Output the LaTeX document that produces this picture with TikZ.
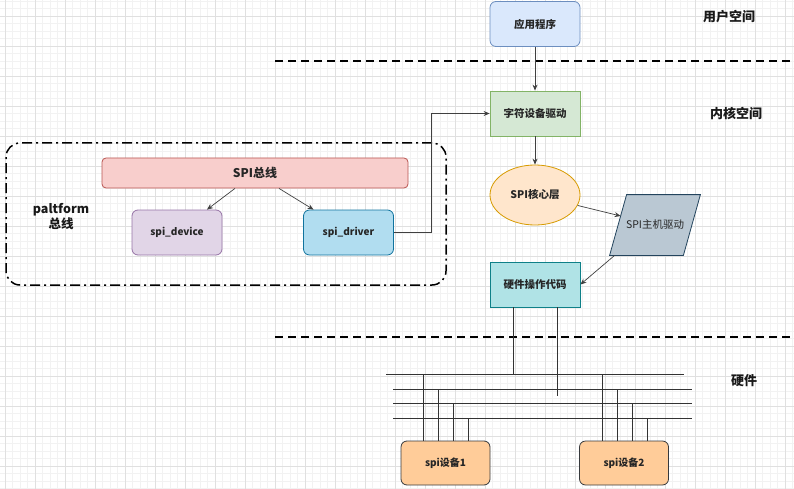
\documentclass[tikz,border=0pt]{standalone}
\usepackage{fontspec}
\setmainfont{Noto Sans CJK SC}
\usetikzlibrary{arrows.meta,positioning,shapes.geometric,backgrounds}
\definecolor{appfill}{HTML}{DAE8FC}\definecolor{appline}{HTML}{6C8EBF}
\definecolor{chrfill}{HTML}{D5E8D4}\definecolor{chrline}{HTML}{82B366}
\definecolor{corefill}{HTML}{FFE6CC}\definecolor{coreline}{HTML}{D79B00}
\definecolor{hostfill}{HTML}{BAC8D3}\definecolor{hostline}{HTML}{23445D}
\definecolor{hwfill}{HTML}{B0E3E6}\definecolor{hwline}{HTML}{0E8088}
\definecolor{busfill}{HTML}{F8CECC}\definecolor{busline}{HTML}{B85450}
\definecolor{devfill}{HTML}{E1D5E7}\definecolor{devline}{HTML}{9673A6}
\definecolor{drvfill}{HTML}{B1DDF0}\definecolor{drvline}{HTML}{10739E}
\definecolor{chipfill}{HTML}{FFCC99}\definecolor{chipline}{HTML}{36393D}
\tikzset{
  box/.style={draw,rectangle,line width=0.8pt,minimum width=90pt,minimum height=45pt,
    inner sep=0pt,text=black!85,font=\bfseries\fontsize{10.5}{12}\selectfont},
  rbox/.style={box,rounded corners=6pt},
  layer/.style={text=black!90,font=\bfseries\fontsize{13}{16}\selectfont},
  split/.style={line width=2.5pt,dash pattern=on 8pt off 5pt},
  flow/.style={-{Stealth[length=6pt,width=5pt]},draw=black!75,line width=0.7pt},
  wire/.style={draw=black!80,line width=0.9pt},
  container/.style={draw,rectangle,rounded corners=14pt,line width=1.5pt,
    dash pattern=on 10pt off 4pt on 2pt off 4pt,minimum width=440pt,minimum height=142pt}
}
\begin{document}
\begin{tikzpicture}[x=1pt,y=-1pt]
  \useasboundingbox (0,0) rectangle (794,489);
  % background grid
  \begin{scope}[on background layer]
    \draw[black!5,line width=0.5pt,shift={(5,16)}] (-30,-30) grid[step=7.5pt] (800,480);
    \draw[black!12,line width=0.6pt,shift={(5,16)}] (-30,-30) grid[step=30pt] (800,480);
  \end{scope}

  % layers
  \node[layer] (user) at (729,17) {用户空间};
  \node[layer] (kernel) at (736,113) {内核空间};
  \node[layer] (hwlayer) at (744,381) {硬件};
  \draw[split] (275,61) -- (794,61);
  \draw[split] (275,337) -- (794,337);

  % kernel side
  \node[rbox,fill=appfill,draw=appline] (app) at (535,24) {应用程序};
  \node[box,fill=chrfill,draw=chrline] (chr) at (535,113.5) {字符设备驱动};
  \node[box,ellipse,fill=corefill,draw=coreline,minimum height=60pt] (core) at (535,195) {SPI核心层};
  \node[box,draw=none,minimum height=60pt,font=\fontsize{10.5}{12}\selectfont] (host) at (655,225) {SPI主机驱动};
  \begin{scope}[on background layer]
    \draw[fill=hostfill,draw=hostline,line width=0.8pt] ([xshift=17pt]host.north west) -- (host.north east)
      -- ([xshift=-17pt]host.south east) -- (host.south west) -- cycle;
  \end{scope}
  \node[box,fill=hwfill,draw=hwline] (hw) at (535,284.5) {硬件操作代码};

  % platform bus
  \node[container] (platform) at (226,214) {};
  \node[layer,align=center,font=\bfseries\fontsize{12.5}{15}\selectfont] (ptext) at (61,217) {paltform\\总线};
  \node[box,rounded corners=4pt,fill=busfill,draw=busline,minimum width=306pt,minimum height=30pt,
    font=\bfseries\fontsize{12}{14}\selectfont] (spibus) at (255,173) {SPI总线};
  \node[rbox,fill=devfill,draw=devline,font=\bfseries\fontsize{10}{12}\selectfont] (device) at (177,232.5) {spi\_device};
  \node[rbox,fill=drvfill,draw=drvline,font=\bfseries\fontsize{10}{12}\selectfont] (driver) at (348.5,232.5) {spi\_driver};

  % devices
  \node[rbox,fill=chipfill,draw=chipline,minimum width=89pt,minimum height=44pt,
    font=\bfseries\fontsize{10}{12}\selectfont] (chip1) at (445.5,463) {spi设备1};
  \node[rbox,fill=chipfill,draw=chipline,minimum width=89pt,minimum height=44pt,
    font=\bfseries\fontsize{10}{12}\selectfont] (chip2) at (624,463) {spi设备2};

  \draw[flow] (app) -- (chr);
  \draw[flow] (chr) -- (core);
  \draw[flow] (core) -- ([xshift=11pt,yshift=9pt]host.west);
  \draw[flow] ([xshift=5pt]host.south west) -- (hw.east);
  \draw[flow] ([xshift=-20pt]spibus.south) -- ([xshift=30pt]device.north);
  \draw[flow] ([xshift=24pt]spibus.south) -- ([xshift=-35pt]driver.north);
  \draw[flow] (driver.east) -- ++(37,0) |- (chr.west);

  % spi lines
  \draw[wire] (386,374) -- (684,374);
  \draw[wire] (393,389) -- (692,389);
  \draw[wire] (393,403) -- (692,403);
  \draw[wire] (393,418) -- (692,418);
  \draw[wire] ([xshift=-22pt]hw.south) -- ++(0,67);
  \draw[wire] ([xshift=22pt]hw.south) -- ++(0,89);
  \draw[wire] ([xshift=-22.5pt]chip1.north) -- ++(0,-67);
  \draw[wire] ([xshift=-7.5pt]chip1.north) -- ++(0,-52);
  \draw[wire] ([xshift=7.5pt]chip1.north) -- ++(0,-38);
  \draw[wire] ([xshift=22.5pt]chip1.north) -- ++(0,-23);
  \draw[wire] ([xshift=-22pt]chip2.north) -- ++(0,-67);
  \draw[wire] ([xshift=-7pt]chip2.north) -- ++(0,-52);
  \draw[wire] ([xshift=8pt]chip2.north) -- ++(0,-38);
  \draw[wire] ([xshift=23pt]chip2.north) -- ++(0,-23);
\end{tikzpicture}
\end{document}
